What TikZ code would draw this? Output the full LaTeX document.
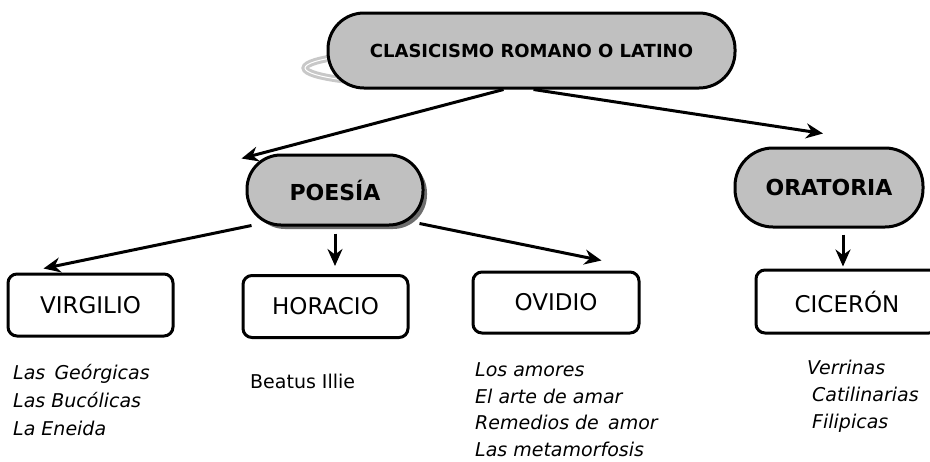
\documentclass[tikz,border=0pt]{standalone}
\usepackage{fontspec}
\setmainfont{DejaVu Sans}
\usepackage{tikz}
\usetikzlibrary{positioning,arrows.meta,calc,shadows}
\definecolor{capsulecolor}{RGB}{192,192,192}
\definecolor{shadowcolor}{RGB}{110,110,110}
\definecolor{ringcolor}{RGB}{200,200,200}

\begin{document}
\begin{tikzpicture}[
  x=1pt, y=-1pt,
  >=Stealth,
  capsule/.style={rectangle, draw, fill=capsulecolor, line width=3pt, rounded corners=34pt, font=\fontsize{22}{26}\selectfont\bfseries, align=center, inner sep=0pt},
  author/.style={rectangle, draw, fill=white, line width=3pt, rounded corners=9pt, minimum width=165pt, minimum height=62pt, font=\fontsize{23}{28}\selectfont, inner sep=0pt},
  works/.style={anchor=base west, align=left, inner sep=0pt, font=\fontsize{19}{28}\selectfont\itshape},
  arr/.style={line width=3pt, arrows={-Stealth[length=17pt, width=15pt]}},
]
\useasboundingbox (0,0) rectangle (930,461);

% === Title ===
\draw[ringcolor, line width=3pt, double=white, double distance=1pt] (440,68) ellipse (135 and 17);
\node[capsule, minimum width=407pt, minimum height=75pt, rounded corners=36pt, font=\fontsize{18}{22}\selectfont\bfseries] (title) at (531.5,50.5) {CLASICISMO ROMANO O LATINO};

% === Genres ===
\node[capsule, minimum width=176pt, minimum height=70pt, drop shadow={shadow xshift=4pt, shadow yshift=-4pt, fill=shadowcolor, opacity=1}] (poesia) at (335,190) {POESÍA};
\node[capsule, minimum width=188pt, minimum height=79pt, rounded corners=38pt] (oratoria) at (829,187.5) {ORATORIA};

% === Authors ===
\node[author] (virgilio) at (90.5,305) {VIRGILIO};
\node[author] (horacio) at (325.5,306.5) {HORACIO};
\node[author, minimum width=166pt, minimum height=61pt] (ovidio) at (556,302.5) {OVIDIO};
\node[author, minimum width=182pt, minimum height=63pt] (ciceron) at (847,301.5) {CICERÓN};

% === Works (anchored at the last line) ===
\node[works] (obrasvir) at (13,435) {Las\, Geórgicas\\Las Bucólicas\\La Eneida};
\node[works, font=\fontsize{19}{28}\selectfont] (obrashor) at (250,388) {Beatus Illie};
\node[works, font=\fontsize{19}{26.5}\selectfont\itshape] (obrasovi) at (475,456) {Los amores\\El arte de amar\\Remedios de\, amor\\Las metamorfosis};
\node[works, font=\fontsize{19}{27}\selectfont\itshape] (obrascic) at (807,428) {Verrinas\\\hspace{5pt}Catilinarias\\\hspace{5pt}Filipicas};

% === Arrows ===
\draw[arr] ([xshift=-28pt]title.south) -- ([xshift=-4pt,yshift=-5pt]poesia.north west);
\draw[arr] ([xshift=2pt]title.south) -- ([xshift=-6pt,yshift=13pt]oratoria.north);
\draw[arr] ([xshift=6pt,yshift=1pt]poesia.south west) -- ([xshift=37pt,yshift=4pt]virgilio.north west);
\draw[arr] ([yshift=-7pt]poesia.south) -- ([yshift=8pt]poesia.south |- horacio.north);
\draw[arr] ([xshift=-5pt,yshift=3pt]poesia.south east) -- ([xshift=-39pt,yshift=10pt]ovidio.north east);
\draw[arr] ([xshift=14pt,yshift=-6pt]oratoria.south) -- ([xshift=14pt,yshift=2pt]oratoria.south |- ciceron.north);

\end{tikzpicture}
\end{document}
